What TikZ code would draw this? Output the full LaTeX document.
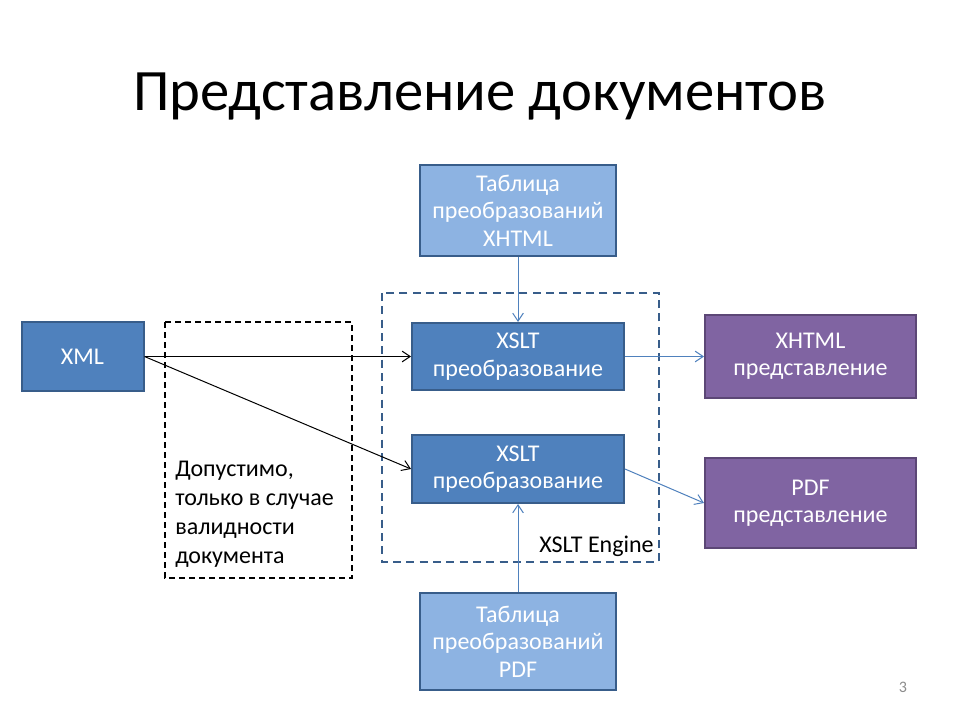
\documentclass[tikz,border=0pt]{standalone}
\usepackage{fontspec}
\setmainfont{Carlito}
\usetikzlibrary{arrows.meta}

\definecolor{boxblue}{HTML}{4F81BD}
\definecolor{boxedge}{HTML}{385D8A}
\definecolor{tabblue}{HTML}{8DB3E2}
\definecolor{viewpurple}{HTML}{8064A2}
\definecolor{viewedge}{HTML}{5C4776}
\definecolor{pagegray}{HTML}{8C8C8C}

\begin{document}
\begin{tikzpicture}[x=0.75pt,y=-0.75pt]

\tikzset{block/.style = {rectangle, draw=boxedge, line width=1.5pt, fill=boxblue, text=white, align=center, inner sep=0pt, font=\fontsize{18}{20.6}\selectfont}}
\tikzset{tablebox/.style = {block, fill=tabblue}}
\tikzset{viewbox/.style = {block, draw=viewedge, fill=viewpurple}}
\tikzset{edge/.style = {->, > = {Straight Barb[length=6pt,width=8pt]}, line width=0.75pt}}

\fill[white] (0,0) rectangle (960,720);
\useasboundingbox (0,0) rectangle (960,720);

% title
\node[anchor=base, font=\fontsize{44}{52}\selectfont] (title) at (480,111) {Представление документов};

% dashed frames
\draw[black, line width=1.5pt, dash pattern=on 4.5pt off 3pt] (165,322) rectangle (352,578);
\draw[boxedge, line width=1.2pt, dash pattern=on 6pt off 4pt] (382,293) rectangle (659,562);

% vertices
\node[block, minimum width=91.5pt, minimum height=51.75pt] (xml) at (82.5,356.5) {XML};
\node[block, minimum width=159pt, minimum height=50.25pt] (xslt1) at (518,356.5) {XSLT\\преобразование};
\node[block, minimum width=159pt, minimum height=51pt] (xslt2) at (518,469) {XSLT\\преобразование};
\node[tablebox, minimum width=147pt, minimum height=68.25pt] (tabx) at (518,210.5) {Таблица\\преобразований\\XHTML};
\node[tablebox, minimum width=147pt, minimum height=72.75pt] (tabp) at (518,641.5) {Таблица\\преобразований\\PDF};
\node[viewbox, minimum width=158.25pt, minimum height=62.25pt] (xhtml) at (810.5,356.5) {XHTML\\представление};
\node[viewbox, minimum width=158.25pt, minimum height=67.5pt] (pdf) at (810.5,503) {PDF\\представление};

% labels
\node[anchor=west, align=left, inner sep=0pt, font=\fontsize{18}{21.8}\selectfont] (valid) at (175,514) {Допустимо,\\только в случае\\валидности\\документа};
\node[anchor=base east, inner sep=0pt, font=\fontsize{18}{21.6}\selectfont] (engine) at (654,552) {XSLT Engine};
\node[text=pagegray, font=\fontsize{12}{14}\selectfont] (page) at (903,687) {3};

%edges
\draw[edge, black] (xml.east) -- (xslt1.west);
\draw[edge, black] (xml.east) -- (xslt2.west);
\draw[edge, boxblue] (tabx.south) -- (xslt1.north);
\draw[edge, boxblue] (tabp.north) -- (xslt2.south);
\draw[edge, boxblue] (xslt1.east) -- (xhtml.west);
\draw[edge, boxblue] (xslt2.east) -- (pdf.west);

\end{tikzpicture}
\end{document}
